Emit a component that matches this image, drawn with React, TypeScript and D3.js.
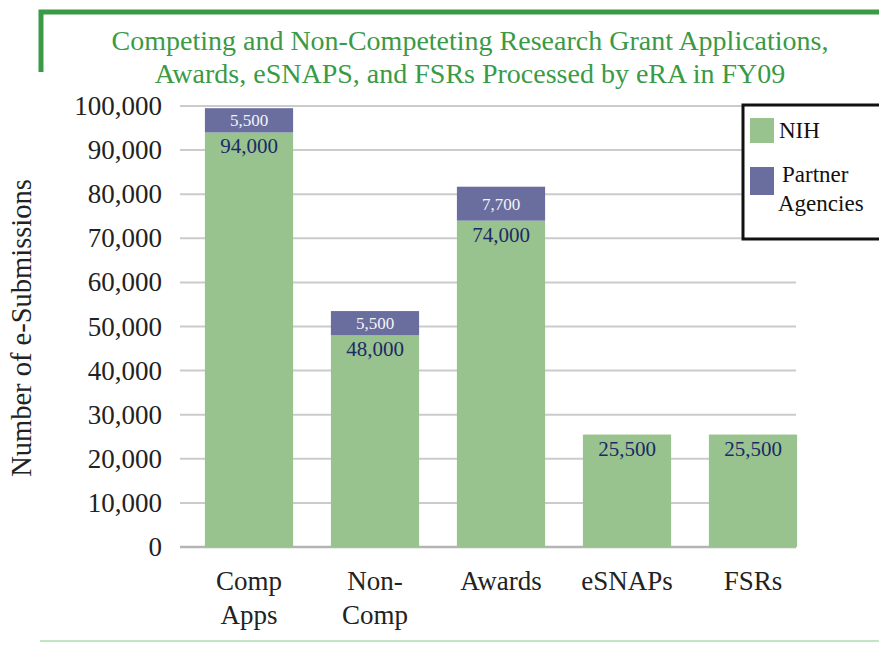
import React from "react";
import * as d3 from "d3";

const categories: string[][] = [["Comp", "Apps"], ["Non-", "Comp"], ["Awards"], ["eSNAPs"], ["FSRs"]];
const nihValues = [94000, 48000, 74000, 25500, 25500];
const partnerValues = [5500, 5500, 7700, 0, 0];
const yTicks = [0, 10000, 20000, 30000, 40000, 50000, 60000, 70000, 80000, 90000, 100000];
const titleLines = [
  "Competing and Non-Competeting Research Grant Applications,",
  "Awards, eSNAPS, and FSRs Processed by eRA in FY09",
];
const legendItems = [
  { label: ["NIH"], color: "#98c28e" },
  { label: ["Partner", "Agencies"], color: "#6a6e9f" },
];

const W = 879;
const H = 645;
const FONT = "'Liberation Serif', 'DejaVu Serif', serif";

export default function App() {
  const keys = categories.map((c) => c.join(" "));
  const x = d3.scaleBand<string>().domain(keys).range([186, 816]).paddingInner(0.3).paddingOuter(0.15);
  const y = d3.scaleLinear().domain([0, 100000]).range([547, 106]);
  const fmt = d3.format(",");
  const green = legendItems[0].color;
  const purple = legendItems[1].color;

  return (
    <svg width={W} height={H} style={{ position: "absolute", left: 0, top: 0, background: "#fff" }} fontFamily={FONT}>
      {/* frame */}
      <path d={`M41,72 V12 H879`} fill="none" stroke="#3a9a45" strokeWidth={5} />
      <line x1={40} x2={879} y1={641} y2={641} stroke="#bfe5c6" strokeWidth={2} />
      {titleLines.map((t, i) => (
        <text key={i} x={470} y={50 + i * 33} textAnchor="middle" fontSize={28} fill="#3a9a45">
          {t}
        </text>
      ))}
      {/* grid */}
      {yTicks.map((t) => (
        <g key={t}>
          <line x1={180} x2={796} y1={y(t)} y2={y(t)} stroke={t === 0 ? "#b4b4b4" : "#cbcbcb"} strokeWidth={t === 0 ? 2.5 : 2} />
          <text x={162} y={y(t) + 9} textAnchor="end" fontSize={27} fill="#222">
            {fmt(t)}
          </text>
        </g>
      ))}
      <text transform={`translate(31,328) rotate(-90)`} textAnchor="middle" fontSize={28.5} fill="#222">
        Number of e-Submissions
      </text>
      {/* bars */}
      {keys.map((k, i) => {
        const bx = x(k)!;
        const bw = x.bandwidth();
        const nih = nihValues[i];
        const par = partnerValues[i];
        return (
          <g key={k}>
            <rect x={bx} y={y(nih)} width={bw} height={y(0) - y(nih)} fill={green} />
            {par > 0 && <rect x={bx} y={y(nih + par)} width={bw} height={y(nih) - y(nih + par)} fill={purple} />}
            <text x={bx + bw / 2} y={y(nih) + 21} textAnchor="middle" fontSize={21} fill="#1c2a66">
              {fmt(nih)}
            </text>
            {par > 0 && (
              <text x={bx + bw / 2} y={(y(nih) + y(nih + par)) / 2 + 6} textAnchor="middle" fontSize={17} fill="#f4f4f8">
                {fmt(par)}
              </text>
            )}
            {categories[i].map((line, j) => (
              <text key={j} x={bx + bw / 2} y={590 + j * 34} textAnchor="middle" fontSize={27} fill="#222">
                {line}
              </text>
            ))}
          </g>
        );
      })}
      {/* legend */}
      <rect x={743} y={105} width={140} height={134} fill="#fff" stroke="#111" strokeWidth={3} />
      {legendItems.map((it, i) => (
        <g key={i}>
          <rect x={750} y={i === 0 ? 118 : 167} width={24} height={i === 0 ? 25 : 28} fill={it.color} />
          {it.label.map((l, j) => (
            <text key={j} x={i === 0 ? 779 : 778 + (j === 0 ? 4 : 0)} y={(i === 0 ? 138 : 182) + j * 29} fontSize={23} fill="#111">
              {l}
            </text>
          ))}
        </g>
      ))}
    </svg>
  );
}
